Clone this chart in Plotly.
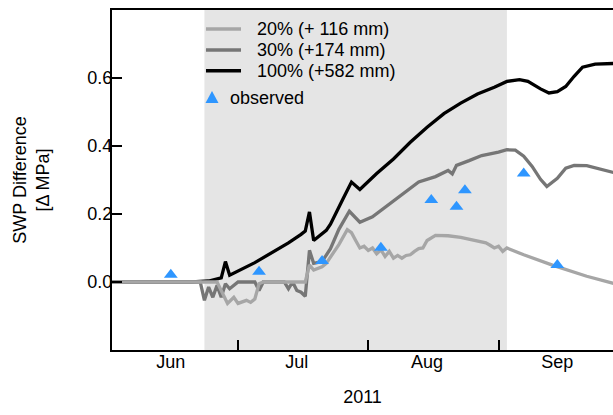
import plotly.graph_objects as go

# ---------------- data ----------------
series_names = ["20% (+ 116 mm)", "30% (+174 mm)", "100% (+582 mm)"]
obs_name = "observed"

dates_20 = ["2011-06-01", "2011-06-26", "2011-06-28 12:00", "2011-06-30", "2011-07-01",
            "2011-07-02", "2011-07-03", "2011-07-04", "2011-07-05", "2011-07-06",
            "2011-07-07", "2011-07-17", "2011-07-18", "2011-07-19", "2011-07-21",
            "2011-07-22", "2011-07-24", "2011-07-25", "2011-07-27", "2011-07-28",
            "2011-07-29", "2011-07-30", "2011-07-31", "2011-08-01", "2011-08-02",
            "2011-08-03", "2011-08-04", "2011-08-05", "2011-08-06", "2011-08-07",
            "2011-08-08", "2011-08-09", "2011-08-10", "2011-08-11", "2011-08-12",
            "2011-08-13", "2011-08-14", "2011-08-15", "2011-08-17", "2011-08-20",
            "2011-08-23", "2011-08-26", "2011-08-29", "2011-08-30", "2011-08-31",
            "2011-09-01", "2011-09-02", "2011-09-03", "2011-09-07", "2011-09-14",
            "2011-09-22", "2011-09-29"]
values_20 = [0.0, 0.0, -0.063, -0.045, -0.063,
             -0.058, -0.054, -0.060, -0.050, -0.005,
             0.0, 0.0, 0.050, 0.035, 0.045,
             0.055, 0.090, 0.110, 0.154, 0.145,
             0.122, 0.100, 0.105, 0.093, 0.100,
             0.083, 0.095, 0.075, 0.090, 0.070,
             0.078, 0.070, 0.078, 0.080, 0.090,
             0.098, 0.100, 0.122, 0.137, 0.136,
             0.131, 0.124, 0.115, 0.108, 0.100,
             0.105, 0.090, 0.100, 0.080, 0.049,
             0.017, -0.006]

dates_30 = ["2011-06-01", "2011-06-22", "2011-06-23", "2011-06-24", "2011-06-25",
            "2011-06-26", "2011-06-27", "2011-06-28", "2011-06-29", "2011-06-30",
            "2011-07-01", "2011-07-05", "2011-07-06", "2011-07-07", "2011-07-12",
            "2011-07-13", "2011-07-14", "2011-07-15", "2011-07-16", "2011-07-17",
            "2011-07-18", "2011-07-19", "2011-07-21", "2011-07-23", "2011-07-25",
            "2011-07-27 12:00", "2011-07-30", "2011-08-02", "2011-08-05", "2011-08-08",
            "2011-08-13", "2011-08-17", "2011-08-19", "2011-08-20", "2011-08-21",
            "2011-08-22", "2011-08-25", "2011-08-28", "2011-09-01", "2011-09-03",
            "2011-09-05", "2011-09-07", "2011-09-09", "2011-09-11", "2011-09-12 12:00",
            "2011-09-15", "2011-09-17", "2011-09-19", "2011-09-22", "2011-09-25",
            "2011-09-29"]
values_30 = [0.0, 0.0, -0.054, -0.015, -0.045,
             -0.010, -0.045, -0.005, -0.020, -0.010,
             0.0, 0.0, -0.025, 0.0, 0.0,
             -0.020, 0.0, -0.025, -0.030, -0.042,
             0.093, 0.055, 0.060, 0.098, 0.155,
             0.208, 0.176, 0.192, 0.220, 0.248,
             0.294, 0.310, 0.323, 0.328, 0.318,
             0.343, 0.357, 0.372, 0.382, 0.389,
             0.388, 0.370, 0.340, 0.302, 0.281,
             0.305, 0.335, 0.343, 0.342, 0.333,
             0.320]

dates_100 = ["2011-06-01", "2011-06-20", "2011-06-24", "2011-06-26", "2011-06-27",
             "2011-06-28", "2011-06-29", "2011-07-05", "2011-07-13", "2011-07-16",
             "2011-07-17", "2011-07-18", "2011-07-19", "2011-07-22", "2011-07-23",
             "2011-07-26", "2011-07-28", "2011-07-30", "2011-08-03", "2011-08-07",
             "2011-08-11", "2011-08-15", "2011-08-19", "2011-08-23", "2011-08-27",
             "2011-08-31", "2011-09-03", "2011-09-06", "2011-09-08", "2011-09-11",
             "2011-09-13", "2011-09-15", "2011-09-17", "2011-09-19", "2011-09-21",
             "2011-09-24", "2011-09-29"]
values_100 = [0.0, 0.0, 0.003, 0.008, 0.012,
              0.060, 0.020, 0.057, 0.115, 0.140,
              0.150, 0.206, 0.122, 0.152, 0.170,
              0.245, 0.294, 0.272, 0.319, 0.362,
              0.411, 0.455, 0.495, 0.526, 0.553,
              0.573, 0.590, 0.595, 0.590, 0.568,
              0.556, 0.560, 0.575, 0.605, 0.632,
              0.641, 0.643]

obs_dates = ["2011-06-15", "2011-07-06", "2011-07-21", "2011-08-04", "2011-08-16",
             "2011-08-22", "2011-08-24", "2011-09-07", "2011-09-15"]
obs_values = [0.021, 0.030, 0.062, 0.101, 0.241, 0.221, 0.270, 0.319, 0.050]

shade_start = "2011-06-23"
shade_end = "2011-09-03"
x_range = ["2011-06-01", "2011-09-28 06:00"]
month_label_dates = ["2011-06-15", "2011-07-15", "2011-08-15", "2011-09-15"]
month_labels = ["Jun", "Jul", "Aug", "Sep"]
month_starts = ["2011-07-01", "2011-08-01", "2011-09-01"]
y_range = [-0.2, 0.8]
y_ticks = [0.0, 0.2, 0.4, 0.6]

# ---------------- styles ----------------
FONT = "Liberation Sans, Arial, sans-serif"
FS = 18
line_colors = ["#a6a6a6", "#767676", "#000000"]
obs_color = "#2E96FF"

fig = go.Figure()

# draw order: 100%, 30%, 20% (lighter on top), then observations
for i in [2, 1, 0]:
    xs, ys = [(dates_20, values_20), (dates_30, values_30), (dates_100, values_100)][i]
    fig.add_trace(go.Scatter(x=xs, y=ys, mode="lines", name=series_names[i],
                             line=dict(color=line_colors[i], width=3.3),
                             showlegend=False))
fig.add_trace(go.Scatter(x=obs_dates, y=obs_values, mode="markers", name=obs_name,
                         marker=dict(symbol="triangle-up", size=12, color=obs_color),
                         showlegend=False))
# empty trace that carries the month-label axis
fig.add_trace(go.Scatter(x=[], y=[], xaxis="x2", yaxis="y", showlegend=False,
                         hoverinfo="skip"))

fig.add_shape(type="rect", xref="x", yref="paper", x0=shade_start, x1=shade_end,
              y0=0, y1=1, fillcolor="#e5e5e5", line=dict(width=0), layer="below")

# ---------------- manual legend (paper coordinates) ----------------
leg_x0, leg_x1, leg_text_x = 0.1876, 0.2575, 0.2854
leg_rows = [0.944, 0.882, 0.821]
for i, yy in enumerate(leg_rows):
    fig.add_shape(type="line", xref="paper", yref="paper", x0=leg_x0, x1=leg_x1,
                  y0=yy, y1=yy, line=dict(color=line_colors[i], width=3.5))
    fig.add_annotation(xref="paper", yref="paper", x=leg_text_x, y=yy,
                       text=series_names[i], showarrow=False, xanchor="left",
                       yanchor="middle", font=dict(size=FS))
obs_leg_y = 0.741
fig.add_shape(type="path", xref="paper", yref="paper", xsizemode="pixel",
              ysizemode="pixel", xanchor=0.1996, yanchor=obs_leg_y,
              path="M-6.5,-5 L6.5,-5 L0,7 Z", fillcolor=obs_color, line=dict(width=0))
fig.add_annotation(xref="paper", yref="paper", x=0.2316, y=obs_leg_y, text=obs_name,
                   showarrow=False, xanchor="left", yanchor="middle",
                   font=dict(size=FS))

fig.update_layout(
    width=613, height=415,
    margin=dict(l=112, r=0, t=10, b=65),
    paper_bgcolor="white", plot_bgcolor="white",
    font=dict(family=FONT, size=FS, color="#000000"),
    showlegend=False,
    # main x axis: frame lines + inward ticks at the month boundaries
    xaxis=dict(range=x_range, type="date", automargin=False,
               tickmode="array", tickvals=month_starts, showticklabels=False,
               ticks="inside", ticklen=10, tickwidth=1.5, tickcolor="#000",
               showline=True, linecolor="#000", linewidth=2, mirror=True,
               showgrid=False, zeroline=False),
    # overlay axis: month names centred in each month, plus the year title
    xaxis2=dict(matches="x", overlaying="x", side="bottom", anchor="y", type="date",
                automargin=False, tickmode="array", tickvals=month_label_dates,
                ticktext=month_labels, ticks="", showline=False, showgrid=False,
                zeroline=False, ticklabelstandoff=-1, tickfont=dict(size=FS),
                title=dict(text="2011", font=dict(size=FS), standoff=19)),
    yaxis=dict(range=y_range, tickvals=y_ticks, tickformat=".1f", automargin=False,
               ticks="inside", ticklen=10, tickwidth=1.5, tickcolor="#000",
               showline=True, linecolor="#000", linewidth=2,
               showgrid=False, zeroline=False, ticklabelstandoff=-6,
               tickfont=dict(size=FS),
               title=dict(text="SWP Difference<br>[Δ MPa]", font=dict(size=FS),
                          standoff=33)),
)

# remove the default 8px page margin so the 613x415 figure fills the window exactly
fig.write_html("out.html", config={"displayModeBar": False},
               post_script="document.body.style.margin='0';"
                           "document.body.style.overflow='hidden';")
